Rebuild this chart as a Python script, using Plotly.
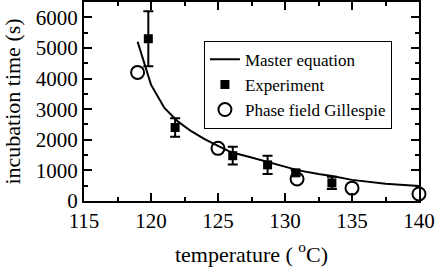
import plotly.graph_objects as go

# Master equation curve
master_T = [119, 119.5, 120, 121, 122, 123, 124, 125, 126, 127.5, 128.7, 130, 131, 132.5, 133.5, 135, 137.5, 140]
master_t = [5200, 4500, 3800, 3040, 2600, 2280, 2020, 1800, 1590, 1420, 1280, 1120, 1000, 880, 815, 690, 560, 490]

# Experiment
exp_T = [119.8, 121.8, 126.1, 128.7, 130.8, 133.5]
exp_t = [5300, 2400, 1480, 1180, 920, 590]
exp_err = [900, 300, 290, 300, 90, 200]

# Phase field Gillespie
pf_T = [119.0, 125.0, 130.9, 135.0, 140.0]
pf_t = [4200, 1720, 720, 420, 230]

x_ticks = [115, 120, 125, 130, 135, 140]
y_ticks = [0, 1000, 2000, 3000, 4000, 5000, 6000]

FONT = "Liberation Serif"

fig = go.Figure()
fig.add_trace(go.Scatter(x=master_T, y=master_t, mode="lines", name="Master equation",
                         line=dict(color="black", width=2)))
fig.add_trace(go.Scatter(x=exp_T, y=exp_t, mode="markers", name="Experiment",
                         marker=dict(symbol="square", size=9, color="black"),
                         error_y=dict(type="data", array=exp_err, color="black", thickness=2, width=5)))
fig.add_trace(go.Scatter(x=pf_T, y=pf_t, mode="markers", name="Phase field Gillespie",
                         marker=dict(symbol="circle-open", size=13, color="black", line=dict(width=2)),
                         cliponaxis=False))

axis_common = dict(showline=True, linecolor="black", linewidth=2, mirror="allticks",
                   ticks="inside", ticklen=8, tickwidth=2, tickcolor="black",
                   showgrid=False, zeroline=False, automargin=False,
                   tickfont=dict(family=FONT, size=21, color="black", weight="normal"))

fig.update_xaxes(range=[115, 140], tickmode="array", tickvals=x_ticks,
                 minor=dict(ticks="inside", ticklen=4, tickwidth=2, tickcolor="black", dtick=2.5, tick0=115),
                 title=dict(text="temperature ( <sup>o</sup>C)", font=dict(family=FONT, size=22, color="black"), standoff=14),
                 **axis_common)
fig.update_yaxes(range=[0, 6500], tickmode="array", tickvals=y_ticks,
                 minor=dict(ticks="inside", ticklen=4, tickwidth=2, tickcolor="black", dtick=500, tick0=0),
                 title=dict(text="incubation time (s)", font=dict(family=FONT, size=22, color="black"), standoff=12),
                 **axis_common)

fig.update_layout(width=436, height=272, margin=dict(l=84, r=17, t=2, b=71),
                  font=dict(family=FONT, color="black"),
                  plot_bgcolor="white", paper_bgcolor="white",
                  legend=dict(x=0.358, y=0.805, xanchor="left", yanchor="top",
                              bordercolor="black", borderwidth=1, bgcolor="white",
                              font=dict(family=FONT, size=17, color="black", weight="normal"),
                              itemwidth=30, tracegroupgap=0),
                  showlegend=True)

fig.write_html("out.html", config={"displayModeBar": False},
               post_script="document.body.style.margin='0';document.body.style.overflow='hidden';")
